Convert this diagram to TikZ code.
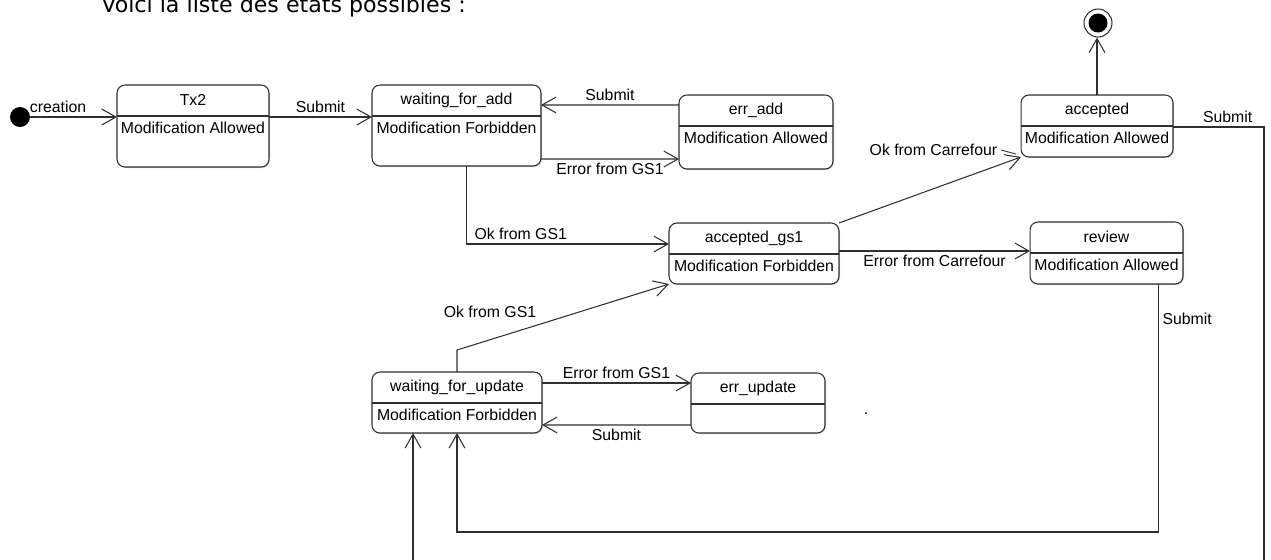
\documentclass[tikz,border=0pt]{standalone}
\usepackage{fontspec}
\setmainfont{Liberation Sans}
\newfontfamily\headfont{DejaVu Sans}
\usetikzlibrary{positioning, calc, arrows.meta, shadows}
\definecolor{EdgeGray}{HTML}{303030}

\begin{document}
\begin{tikzpicture}[
  x=0.02cm, y=-0.02cm,
  font=\fontsize{9}{11}\selectfont,
  state/.style={rectangle, rounded corners=4.5pt, draw=EdgeGray, line width=0.6pt, fill=white, inner sep=0pt, outer sep=0pt, drop shadow={shadow xshift=0.6pt, shadow yshift=-0.6pt, opacity=0.35}},
  title/.style={inner sep=0pt},
  body/.style={inner sep=0pt},
  divider/.style={draw=EdgeGray, line width=0.6pt},
  lbl/.style={inner sep=2pt, text=black},
  arr/.style={-{Straight Barb[length=8pt, width=9pt]}, line width=0.6pt, EdgeGray},
]
\useasboundingbox (0,0) rectangle (1271,559);

\node[anchor=base west, inner sep=0pt, font=\headfont\fontsize{12.6}{15}\selectfont] (heading) at (101,12) {Voici la liste des états possibles :};

% states
\node[circle, fill=black, minimum size=0.4cm, inner sep=0pt] (init) at (20,117) {};
\node[state, minimum width=3.04cm, minimum height=1.64cm] (tx) at (193,126) {};
\node[state, minimum width=3.38cm, minimum height=1.62cm] (wfa) at (456.5,125.5) {};
\node[state, minimum width=3.08cm, minimum height=1.48cm] (erradd) at (756,132) {};
\node[state, minimum width=3.04cm, minimum height=1.24cm] (acc) at (1097,126) {};
\node[state, minimum width=3.40cm, minimum height=1.22cm] (accgs) at (754,253.5) {};
\node[state, minimum width=3.06cm, minimum height=1.24cm] (review) at (1106.5,253) {};
\node[state, minimum width=3.40cm, minimum height=1.22cm] (wfu) at (457,402.5) {};
\node[state, minimum width=2.68cm, minimum height=1.20cm] (errupd) at (758,403) {};
\node[circle, draw=EdgeGray, line width=0.6pt, fill=white, minimum size=0.56cm, inner sep=0pt] (fin) at (1098,23) {};
\node[circle, fill=black, minimum size=0.38cm, inner sep=0pt] (fin-dot) at (fin) {};

\foreach \n/\t/\b in {tx/Tx2/Modification Allowed, wfa/waiting\_for\_add/Modification Forbidden,
  erradd/err\_add/Modification Allowed, acc/accepted/Modification Allowed,
  accgs/accepted\_gs1/Modification Forbidden, review/review/Modification Allowed,
  wfu/waiting\_for\_update/Modification Forbidden, errupd/err\_update/{}}{
  \node[title] (\n-t) at ($(\n.north)+(0,15)$) {\t};
  \node[body] (\n-b) at ($(\n.north)+(0,43)$) {\b};
  \draw[divider] ($(\n.north west)+(0,31)$) -- ($(\n.north east)+(0,31)$);
}

\node (dot) at (866,414) {.};

% transitions
\coordinate (offR) at (1264,600);
\coordinate (offL) at (413,600);

\draw[arr] (init.east) -- node[lbl, pos=0.32, above] {creation} (tx.west |- init);
\draw[arr] (tx.east |- init) -- node[lbl, above] {Submit} (wfa.west |- init);
\draw[arr] ($(erradd.north west)+(0,10)$) -- node[lbl, above] {Submit} ($(wfa.north east)+(0,20)$);
\draw[arr] ($(wfa.south east)+(0,-7)$) -- node[lbl, below] {Error from GS1} ($(erradd.south west)+(0,-10)$);
\draw[arr] ($(wfa.south)+(10,0)$) |- node[lbl, pos=0.51, above right] {Ok from GS1} ($(accgs.north west)+(0,21)$);
\draw[arr] (accgs.north east) -- (acc.south west);
\node[lbl, anchor=east] (okc) at (1001,150) {Ok from Carrefour};
\draw[EdgeGray, line width=0.5pt] (okc.east) -- ($(acc.south west)+(-5,-3)$);
\draw[arr] ($(accgs.north east)+(0,28)$) -- node[lbl, below] {Error from Carrefour} ($(review.north west)+(0,29)$);
\draw[arr] (acc.north) -- (acc.north |- fin.south);
\draw[arr] ($(acc.north east)+(0,32)$) -| node[lbl, pos=0.3, above] {Submit} (offR) -- (offL) -- (wfu.south -| offL);
\draw[arr] ($(review.south)+(52,0)$) |- node[lbl, pos=0.07, right] {Submit} ($(wfu.south)+(0,99)$) -- (wfu.south);
\draw[arr] (wfu.north) -- ++(0,-22) -- (accgs.south west);
\node[lbl] (okgs) at (490,312) {Ok from GS1};
\draw[arr] ($(wfu.north east)+(0,11)$) -- node[lbl, above] {Error from GS1} ($(errupd.north west)+(0,10)$);
\draw[arr] ($(errupd.south west)+(0,-8)$) -- node[lbl, below] {Submit} ($(wfu.south east)+(0,-8)$);

\end{tikzpicture}
\end{document}
